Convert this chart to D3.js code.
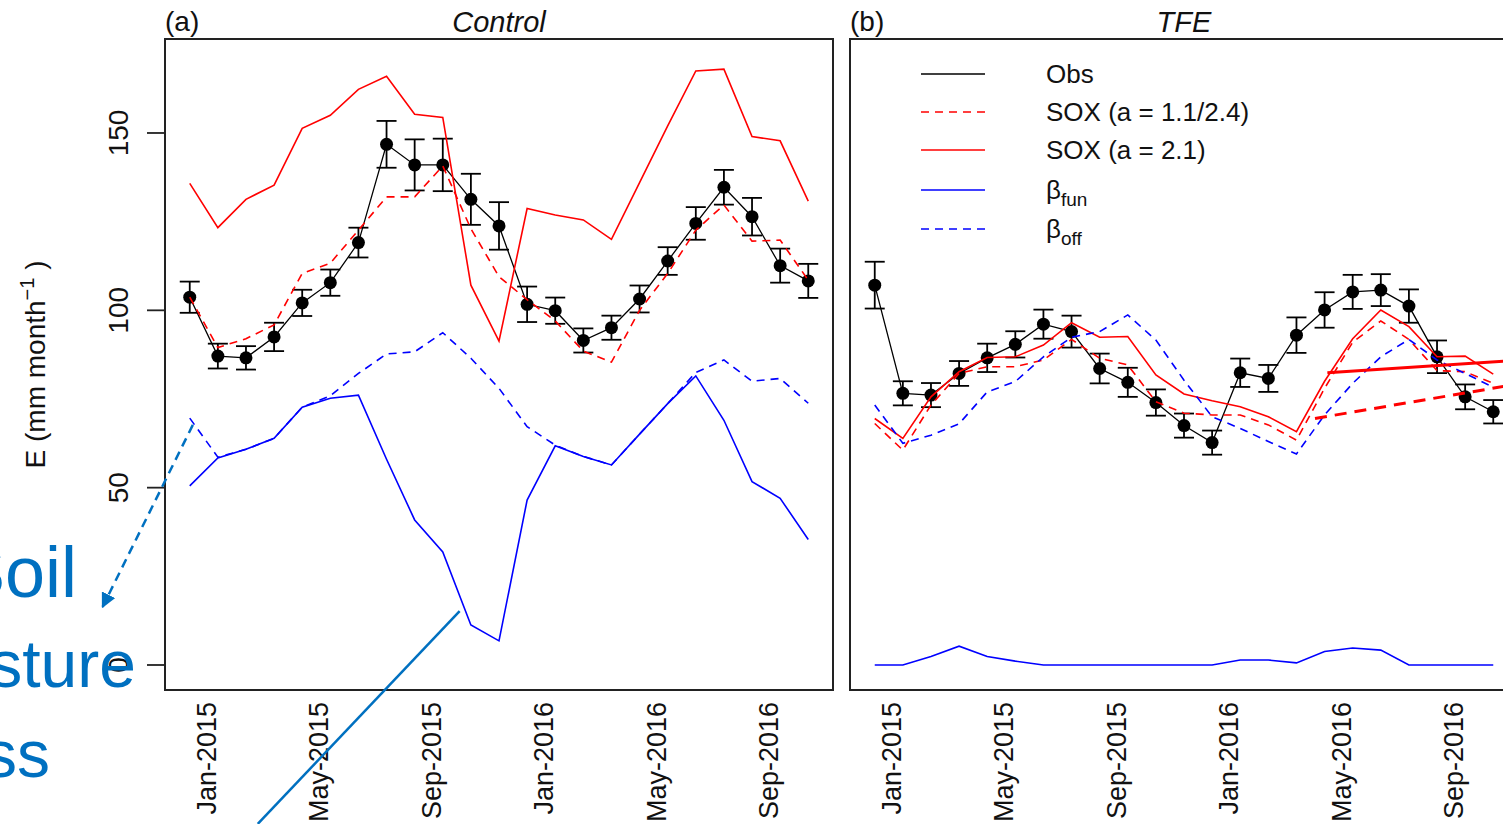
<!DOCTYPE html>
<html><head><meta charset="utf-8">
<script src="https://cdn.jsdelivr.net/npm/d3@7"></script>
<style>
body{margin:0;background:#fff;}
svg{display:block;font-family:"Liberation Sans",Arial,Helvetica,sans-serif;}
</style>
</head><body>
<svg id="c" width="1503" height="824"></svg>
<script>
// ---------------- DATA ----------------
const monthLabels = ["Jan-2015","Feb-2015","Mar-2015","Apr-2015","May-2015","Jun-2015","Jul-2015","Aug-2015","Sep-2015","Oct-2015","Nov-2015","Dec-2015",
  "Jan-2016","Feb-2016","Mar-2016","Apr-2016","May-2016","Jun-2016","Jul-2016","Aug-2016","Sep-2016","Oct-2016","Nov-2016"];
const xTickLabels = ["Jan-2015","May-2015","Sep-2015","Jan-2016","May-2016","Sep-2016"];
const yTickValues = [0, 50, 100, 150];

// (a) Control
const ctrlObs    = [103.7, 87.1, 86.6, 92.5, 102.1, 107.8, 119.1, 146.8, 141.0, 141.0, 131.3, 123.8, 101.7, 99.9, 91.5, 95.1, 103.2, 113.9, 124.5, 134.7, 126.4, 112.6, 108.3];
const ctrlObsErr = [4.4, 3.5, 3.3, 4.0, 3.7, 3.7, 4.2, 6.6, 7.2, 7.4, 7.2, 6.7, 5.0, 3.7, 3.4, 3.4, 3.8, 3.9, 4.6, 4.9, 5.3, 4.8, 4.8];
const ctrlSoxFit = [103.7, 89.5, 92.0, 95.9, 110.4, 113.3, 122.6, 132.0, 132.0, 140.7, 123.0, 109.5, 103.0, 97.0, 88.5, 85.4, 100.0, 110.4, 122.6, 129.7, 119.5, 119.8, 108.5];
const ctrlSox21  = [135.8, 123.3, 131.3, 135.3, 151.3, 155.0, 162.3, 166.0, 155.3, 154.4, 107.1, 91.3, 128.7, 126.9, 125.5, 120.0, 136.0, 152.0, 167.5, 168.0, 149.0, 147.8, 130.8];
const ctrlBfun   = [50.5, 58.4, 60.8, 63.9, 72.7, 75.2, 76.1, 58.0, 40.9, 31.9, 11.3, 6.8, 46.5, 61.8, 58.8, 56.4, 65.1, 73.7, 81.5, 69.0, 51.7, 47.0, 35.4];
const ctrlBoff   = [69.6, 58.6, 60.8, 63.9, 72.7, 75.9, 82.2, 87.7, 88.3, 93.7, 86.5, 78.0, 67.2, 62.0, 58.8, 56.4, 65.1, 73.7, 82.5, 86.0, 80.0, 80.8, 73.8];

// (b) TFE
const tfeObs    = [107.1, 76.6, 76.1, 82.2, 86.6, 90.4, 96.1, 94.0, 83.6, 79.7, 74.0, 67.5, 62.7, 82.4, 80.8, 93.0, 100.1, 105.2, 105.7, 101.2, 86.9, 75.6, 71.4];
const tfeObsErr = [6.6, 3.4, 3.4, 3.5, 4.0, 3.7, 4.1, 4.5, 4.2, 4.1, 3.7, 3.4, 3.4, 4.0, 3.8, 5.0, 5.0, 4.8, 4.5, 4.7, 4.6, 3.5, 3.3];
const tfeSoxFit = [68.1, 60.6, 73.3, 82.2, 84.1, 84.1, 86.0, 91.8, 86.5, 84.6, 74.2, 71.0, 70.5, 70.5, 67.7, 63.4, 78.0, 91.0, 97.0, 91.8, 83.0, 82.7, 79.4];
const tfeSox21  = [69.5, 63.9, 75.6, 82.7, 86.7, 86.9, 90.2, 96.5, 92.4, 92.6, 81.8, 76.4, 74.5, 72.8, 70.0, 65.8, 80.0, 92.0, 100.1, 95.4, 86.9, 87.1, 82.0];
const tfeBfun   = [0, 0, 2.4, 5.3, 2.4, 1.1, 0, 0, 0, 0, 0, 0, 0, 1.4, 1.4, 0.6, 3.8, 4.8, 4.2, 0, 0, 0, 0];
const tfeBoff   = [73.3, 62.5, 64.8, 68.0, 77.0, 79.9, 86.9, 92.4, 94.0, 98.7, 91.6, 80.3, 70.0, 66.7, 63.0, 59.5, 70.5, 79.4, 86.9, 91.8, 86.0, 82.2, 78.3];

// hand-drawn trend annotations on (b), in [month index, value]
const trendSolid  = [[16.1, 82.4], [23.0, 86.0]];
const trendDashed = [[15.66, 69.5], [23.0, 79.4]];

// slide annotation (blue) expressed in panel (a) coordinates [month index, value]
const annotArrow = [[0.11, 67.7], [-3.1, 16.4]];
const annotLine  = [[9.6, 15.2], [2.42, -44.8]];
const annotWords = ["Soil", "moisture", "stress"];

const legendLabels = ["Obs", "SOX (a = 1.1/2.4)", "SOX (a = 2.1)", "β|fun", "β|off"];

// ---------------- DRAW ----------------
const W = 1503, H = 824;
const svg = d3.select("#c");
svg.append("rect").attr("width", W).attr("height", H).attr("fill", "#fff");

const TOP = 39, BOTTOM = 690, PW = 668;
const yScale = d3.scaleLinear().domain([-7.05, 176.5]).range([BOTTOM, TOP]);
const RED = "#ff0000", BLUE = "#0000ff", ANN = "#0070C0";
const DASH = "8,6";

const panels = [
  {left: 165, tag: "(a)", title: "Control", obs: ctrlObs, err: ctrlObsErr, fit: ctrlSoxFit, s21: ctrlSox21, bfun: ctrlBfun, boff: ctrlBoff, yaxis: true},
  {left: 850, tag: "(b)", title: "TFE", obs: tfeObs, err: tfeObsErr, fit: tfeSoxFit, s21: tfeSox21, bfun: tfeBfun, boff: tfeBoff, yaxis: false}
];
const xScales = [];

panels.forEach((p, pi) => {
  const n = monthLabels.length - 1;
  const x = d3.scaleLinear().domain([-0.04 * n, n * 1.04]).range([p.left, p.left + PW]);
  xScales.push(x);
  const g = svg.append("g");
  const line = d3.line().x((d, i) => x(i)).y(d => yScale(d));

  // observations: line, error bars, points
  g.append("path").attr("d", line(p.obs)).attr("fill", "none").attr("stroke", "#000").attr("stroke-width", 1.3);
  const eb = g.selectAll(".eb").data(p.obs).enter().append("g");
  eb.append("line").attr("x1", (d, i) => x(i)).attr("x2", (d, i) => x(i))
    .attr("y1", (d, i) => yScale(d - p.err[i])).attr("y2", (d, i) => yScale(d + p.err[i]))
    .attr("stroke", "#000").attr("stroke-width", 1.8);
  [-1, 1].forEach(s => {
    eb.append("line").attr("x1", (d, i) => x(i) - 10).attr("x2", (d, i) => x(i) + 10)
      .attr("y1", (d, i) => yScale(d + s * p.err[i])).attr("y2", (d, i) => yScale(d + s * p.err[i]))
      .attr("stroke", "#000").attr("stroke-width", 1.8);
  });
  eb.append("circle").attr("cx", (d, i) => x(i)).attr("cy", d => yScale(d)).attr("r", 6.5).attr("fill", "#000");

  // model lines
  g.append("path").attr("d", line(p.fit)).attr("fill", "none").attr("stroke", RED).attr("stroke-width", 1.6).attr("stroke-dasharray", DASH);
  g.append("path").attr("d", line(p.s21)).attr("fill", "none").attr("stroke", RED).attr("stroke-width", 1.6);
  g.append("path").attr("d", line(p.bfun)).attr("fill", "none").attr("stroke", BLUE).attr("stroke-width", 1.6);
  g.append("path").attr("d", line(p.boff)).attr("fill", "none").attr("stroke", BLUE).attr("stroke-width", 1.6).attr("stroke-dasharray", DASH);

  // box
  g.append("rect").attr("x", p.left).attr("y", TOP).attr("width", PW).attr("height", BOTTOM - TOP)
    .attr("fill", "none").attr("stroke", "#222").attr("stroke-width", 2);

  // x tick labels
  xTickLabels.forEach(lab => {
    const i = monthLabels.indexOf(lab);
    g.append("text").attr("transform", `translate(${x(i) + 26},702) rotate(-90)`)
      .attr("text-anchor", "end").attr("font-size", 27).attr("fill", "#111").text(lab);
  });

  // titles
  g.append("text").attr("x", p.left).attr("y", 31).attr("font-size", 28).attr("fill", "#111").text(p.tag);
  g.append("text").attr("x", p.left + PW / 2).attr("y", 32).attr("text-anchor", "middle")
    .attr("font-size", 29).attr("font-style", "italic").attr("fill", "#111").text(p.title);

  if (p.yaxis) {
    yTickValues.forEach(v => {
      g.append("line").attr("x1", p.left - 18).attr("x2", p.left).attr("y1", yScale(v)).attr("y2", yScale(v))
        .attr("stroke", "#222").attr("stroke-width", 1.8);
      g.append("text").attr("transform", `translate(${p.left - 37},${yScale(v)}) rotate(-90)`)
        .attr("text-anchor", "middle").attr("font-size", 28).attr("fill", "#111").text(v);
    });
    const yt = g.append("text").attr("transform", `translate(45,${(TOP + BOTTOM) / 2}) rotate(-90)`)
      .attr("text-anchor", "middle").attr("font-size", 28).attr("fill", "#111");
    yt.append("tspan").text("E (mm month");
    yt.append("tspan").attr("dy", -11).attr("font-size", 20).text("−1");
    yt.append("tspan").attr("dy", 11).text(" )");
  }
});

// legend in (b)
const xb = xScales[1];
const legRows = [74, 112, 150, 190, 229];
const legStyles = [
  {c: "#000", d: null}, {c: RED, d: DASH}, {c: RED, d: null}, {c: BLUE, d: null}, {c: BLUE, d: DASH}
];
const lg = svg.append("g");
legendLabels.forEach((lab, i) => {
  const yy = legRows[i];
  lg.append("line").attr("x1", 921).attr("x2", 985).attr("y1", yy).attr("y2", yy)
    .attr("stroke", legStyles[i].c).attr("stroke-width", 1.6).attr("stroke-dasharray", legStyles[i].d);
  const t = lg.append("text").attr("x", 1046).attr("y", yy + 9).attr("font-size", 26).attr("fill", "#111");
  const parts = lab.split("|");
  t.append("tspan").text(parts[0]);
  if (parts[1]) t.append("tspan").attr("dy", 7).attr("font-size", 19).text(parts[1]);
});

// trend annotations on (b)
const tline = d3.line().x(d => xb(d[0])).y(d => yScale(d[1]));
svg.append("path").attr("d", tline(trendSolid)).attr("stroke", RED).attr("stroke-width", 3).attr("fill", "none");
svg.append("path").attr("d", tline(trendDashed)).attr("stroke", RED).attr("stroke-width", 3).attr("fill", "none").attr("stroke-dasharray", "12,8");

// blue slide annotations
const xa = xScales[0];
const aline = d3.line().x(d => xa(d[0])).y(d => yScale(d[1]));
const defs = svg.append("defs");
defs.append("marker").attr("id", "ah").attr("viewBox", "0 0 10 10").attr("refX", 9).attr("refY", 5)
  .attr("markerWidth", 6).attr("markerHeight", 6).attr("markerUnits", "strokeWidth").attr("orient", "auto")
  .append("path").attr("d", "M0,0 L10,5 L0,10 z").attr("fill", ANN);
svg.append("path").attr("d", aline(annotArrow)).attr("stroke", ANN).attr("stroke-width", 2.5).attr("fill", "none")
  .attr("stroke-dasharray", "9,6").attr("marker-end", "url(#ah)");
svg.append("path").attr("d", aline(annotLine)).attr("stroke", ANN).attr("stroke-width", 2.5).attr("fill", "none");

const wordEnds = [77, 136, 50];
const wordBase = [597, 687, 777];
const wordSize = [72, 66, 66];
annotWords.forEach((w, i) => {
  svg.append("text").attr("x", wordEnds[i]).attr("y", wordBase[i]).attr("text-anchor", "end")
    .attr("font-size", wordSize[i]).attr("fill", ANN).text(w);
});
</script>
</body></html>
